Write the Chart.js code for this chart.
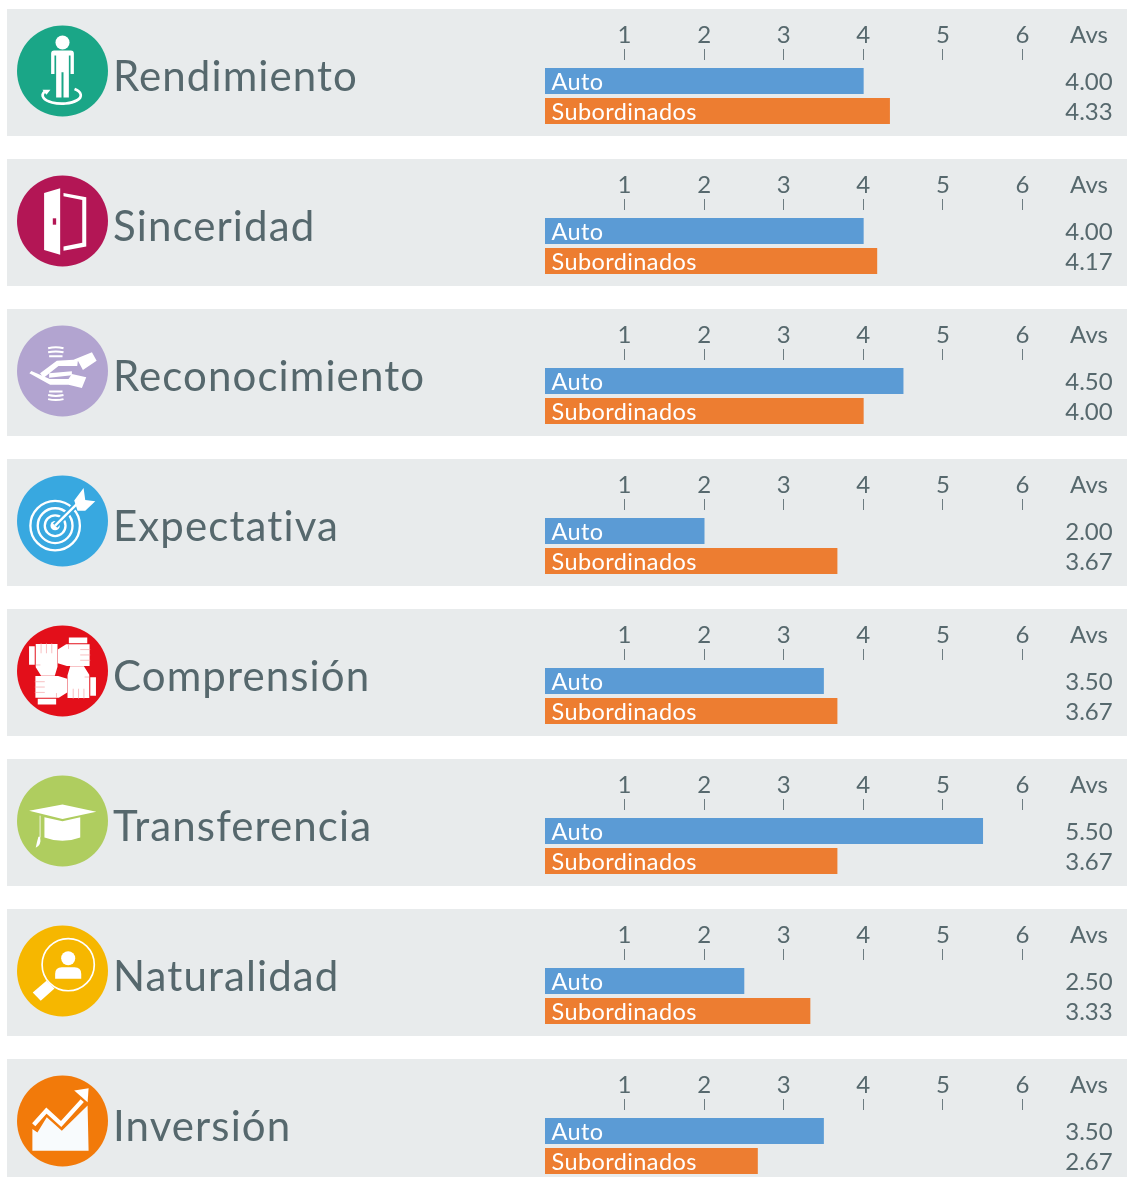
<!DOCTYPE html>
<html>
<head>
<meta charset="utf-8">
<script src="https://cdn.jsdelivr.net/npm/chart.js@4"></script>
<style>
html, body { margin: 0; padding: 0; background: #fff; }
body { position: relative; width: 1127px; height: 1177px; overflow: hidden; font-family: Lato, sans-serif; }
.panel { position: absolute; left: 7px; width: 1120px; height: 127px; background: #e8ebec; }
.panel canvas { position: absolute; left: 0; top: 0; }
.panel svg { position: absolute; left: 10px; top: 16px; width: 91px; height: 92px; }
.panel .title { position: absolute; left: 106px; top: 41px; line-height: 50px; font-size: 42px; letter-spacing: 1.1px; color: #56686d; white-space: nowrap; }
</style>
</head>
<body>
<script>
const categories = ['Rendimiento', 'Sinceridad', 'Reconocimiento', 'Expectativa', 'Comprensión', 'Transferencia', 'Naturalidad', 'Inversión'];
const seriesNames = ['Auto', 'Subordinados'];
const autoValues = [4.00, 4.00, 4.50, 2.00, 3.50, 5.50, 2.50, 3.50];
const subValues = [4.33, 4.17, 4.00, 3.67, 3.67, 3.67, 3.33, 2.67];
const tickValues = [1, 2, 3, 4, 5, 6];
const avgHeader = 'Avs';

const seriesColors = ['#5b9bd5', '#ed7d31'];
const textColor = '#56686d';

const iconColors = ['#1aa687', '#b31655', '#b2a4d0', '#38a8e0', '#e30f1a', '#afcd5f', '#f6b700', '#f27a0a'];

// hand used four times in the Comprensión icon
const fist = '<path d="M36 62h17v55H36zM56 55h65v68l-8 27H72L56 125z" fill="#fff"/><path d="M72 53v30M88 53v30M104 53v30M56 118l14 0" stroke="#f4a0a4" stroke-width="2"/>';

const icons = [
    '<circle cx="136" cy="51" r="21" fill="#fff"/><path d="M102 84q0-9 9-9h50q9 0 9 9v61h-10V90h-5v125h-16v-75h-6v75h-16V90h-5v55h-10z" fill="#fff"/><path d="M82 198A57 25 0 1 0 172 190" fill="none" stroke="#fff" stroke-width="8"/><path d="M76 192h24l-12 15z" fill="#fff"/>',
    '<path d="M81 52l48-14v199l-48-14z" fill="#fff"/><rect x="107" y="128" width="10" height="19" fill="#b31655"/><path d="M139 52l68 13v147l-68 13v-13l56-11V73l-56-11z" fill="#fff"/>',
    '<g fill="#fff"><path d="M224 80l14 25-41 28-15-28-2 16h-56l-45 36-10-14 50-38 50-3z"/><path d="M37 143l6-7 55 24h56l10-15 43 10-13 32-40-10H99z"/><path d="M96 143l68-6v12l-68 7z"/></g><g fill="none" stroke="#fff" stroke-width="6"><path d="M93 68q23-6 46 0M93 80q23-5 46 0M96 92h40M93 220q23 6 46 0M93 208q23 5 46 0M96 197h40"/></g>',
    '<g fill="none" stroke="#fff"><circle cx="114" cy="150" r="74" stroke-width="7"/><circle cx="114" cy="150" r="52" stroke-width="7"/><circle cx="114" cy="150" r="31" stroke-width="7"/></g><circle cx="114" cy="150" r="14" fill="#fff"/><path d="M114 150L176 88" stroke="#38a8e0" stroke-width="18"/><path d="M114 150L180 84" stroke="#fff" stroke-width="7"/><path d="M199 37l5 36 30 4-30 28h-23l-10-30z" fill="#fff"/>',
    '<g>' + fist + '</g><g transform="rotate(90 136 136)">' + fist + '</g><g transform="rotate(180 136 136)">' + fist + '</g><g transform="rotate(270 136 136)">' + fist + '</g>',
    '<path d="M36 105L136 87 237 108 136 130z" fill="#fff"/><path d="M82 125l54 12 53-12v60q-53 20-107 0z" fill="#fff"/><path d="M69 120v65" stroke="#fff" stroke-width="2.5"/><path d="M69 183q5 25-13 33 4-20 8-33z" fill="#fff"/>',
    '<circle cx="153" cy="117" r="78" fill="none" stroke="#fff" stroke-width="5"/><circle cx="153" cy="98" r="21" fill="#fff"/><path d="M114 159v-14q0-20 20-20h38q20 0 20 20v14z" fill="#fff"/><path d="M47 200l24 25 41-37-24-23z" fill="#fff"/>',
    '<path d="M46 160l15 10 28-45 45 40 77-75 3 135H46z" fill="#f8fbfd"/><path d="M50 147L88 105l44 40 63-70" fill="none" stroke="#fff" stroke-width="13"/><path d="M214 38l-43 7 40 35z" fill="#fff"/>'
];

// text inside the bars and the Avs column on the right
const barText = {
    id: 'barText',
    afterDraw(chart) {
        const c = chart.ctx;
        const bars = chart.getDatasetMeta(0).data;
        const avsX = 1082;
        c.save();
        c.textBaseline = 'middle';
        c.font = '23.5px Lato, sans-serif';
        c.letterSpacing = '0.4px';
        c.textAlign = 'left';
        c.fillStyle = '#fff';
        bars.forEach((bar, i) => {
            c.fillText(seriesNames[i], chart.scales.x.getPixelForValue(0) + 6.5, bar.y + 1);
        });
        c.letterSpacing = '0px';
        c.font = '24px Lato, sans-serif';
        c.textAlign = 'center';
        c.fillStyle = textColor;
        bars.forEach((bar, i) => {
            c.fillText(chart.data.datasets[0].data[i].toFixed(2), avsX, bar.y + 1);
        });
        c.fillText(avgHeader, avsX, 26);
        c.restore();
    }
};

categories.forEach((name, i) => {
    const panel = document.createElement('div');
    panel.className = 'panel';
    panel.style.top = (9 + i * 150) + 'px';

    const canvas = document.createElement('canvas');
    canvas.width = 1120;
    canvas.height = 127;
    panel.appendChild(canvas);

    panel.insertAdjacentHTML('beforeend',
        '<svg viewBox="0 0 272 272"><circle cx="136" cy="136" r="136" fill="' + iconColors[i] + '"/>' + icons[i] + '</svg>' +
        '<div class="title">' + name + '</div>');
    document.body.appendChild(panel);

    new Chart(canvas.getContext('2d'), {
        type: 'bar',
        data: {
            labels: seriesNames,
            datasets: [{
                data: [autoValues[i], subValues[i]],
                backgroundColor: seriesColors,
                barThickness: 25.5
            }]
        },
        options: {
            indexAxis: 'y',
            responsive: false,
            animation: false,
            layout: { padding: { left: 538, right: 104.5, top: 0, bottom: 10 } },
            plugins: { legend: { display: false }, tooltip: { enabled: false } },
            scales: {
                x: {
                    position: 'top',
                    min: 0,
                    max: 6,
                    afterFit: s => { s.height = 57; },
                    afterBuildTicks: s => { s.ticks = tickValues.map(v => ({ value: v })); },
                    border: { display: false },
                    grid: {
                        drawOnChartArea: false,
                        tickLength: 17,
                        tickColor: '#6d7c81',
                        tickWidth: 1,
                        tickBorderDash: [11, 40]
                    },
                    ticks: {
                        autoSkip: false,
                        maxRotation: 0,
                        padding: -1,
                        color: textColor,
                        font: { family: 'Lato, sans-serif', size: 24 }
                    }
                },
                y: { display: false }
            }
        },
        plugins: [barText]
    });
});
</script>
</body>
</html>
